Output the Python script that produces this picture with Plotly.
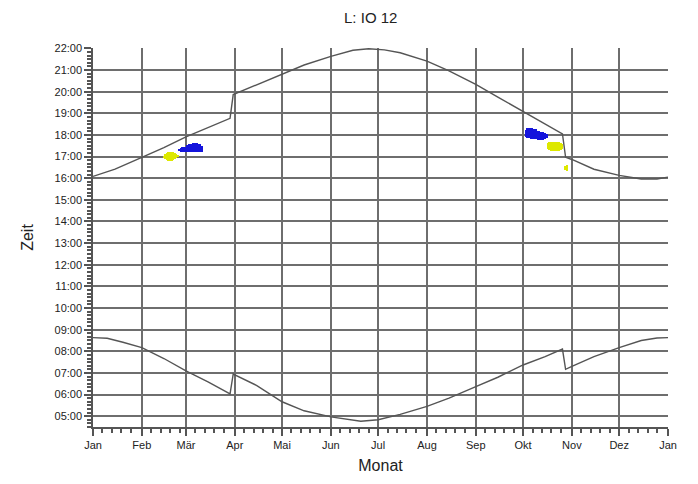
import plotly.graph_objects as go
import datetime as dt

# Sonnenaufgang / Sonnenuntergang
rise_days = ["2011-01-01", "2011-01-10", "2011-01-20", "2011-02-01", "2011-02-15", "2011-03-01",
             "2011-03-15", "2011-03-29", "2011-03-31", "2011-04-15", "2011-05-01", "2011-05-15",
             "2011-06-01", "2011-06-20", "2011-07-01", "2011-07-15", "2011-08-01", "2011-08-15",
             "2011-09-01", "2011-09-15", "2011-10-01", "2011-10-15", "2011-10-26", "2011-10-28",
             "2011-11-01", "2011-11-15", "2011-12-01", "2011-12-15", "2011-12-25", "2012-01-01"]
rise_times = ["08:38", "08:36", "08:25", "08:10", "07:40", "07:06",
              "06:35", "06:02", "06:57", "06:25", "05:40", "05:15",
              "04:58", "04:46", "04:50", "05:05", "05:27", "05:50",
              "06:22", "06:48", "07:22", "07:45", "08:06", "07:10",
              "07:18", "07:45", "08:10", "08:30", "08:37", "08:38"]

set_days = ["2011-01-01", "2011-01-15", "2011-02-01", "2011-02-15", "2011-03-01", "2011-03-15",
            "2011-03-29", "2011-03-31", "2011-04-15", "2011-05-01", "2011-05-15", "2011-06-01",
            "2011-06-15", "2011-06-25", "2011-07-05", "2011-07-15", "2011-08-01", "2011-08-15",
            "2011-09-01", "2011-09-15", "2011-10-01", "2011-10-15", "2011-10-26", "2011-10-28",
            "2011-11-01", "2011-11-15", "2011-12-01", "2011-12-15", "2011-12-25", "2012-01-01"]
set_times = ["16:05", "16:25", "16:58", "17:25", "17:55", "18:20",
             "18:46", "19:52", "20:20", "20:50", "21:14", "21:38",
             "21:55", "21:59", "21:56", "21:48", "21:25", "20:58",
             "20:20", "19:45", "19:05", "18:32", "18:03", "16:58",
             "16:52", "16:25", "16:08", "15:58", "15:58", "16:03"]

# Schattenwurf-Zeiten (Beginn / Ende je Tag)
yellow1_days = ["2011-02-15", "2011-02-16", "2011-02-17", "2011-02-18", "2011-02-19",
                "2011-02-20", "2011-02-21", "2011-02-22", "2011-02-23", "2011-02-24"]
yellow1_from = ["16:58", "16:53", "16:50", "16:48", "16:48", "16:49", "16:50", "16:53", "16:56", "17:00"]
yellow1_to = ["17:03", "17:08", "17:11", "17:13", "17:14", "17:14", "17:13", "17:11", "17:08", "17:04"]

blue1_days = ["2011-02-25", "2011-02-26", "2011-02-27", "2011-02-28", "2011-03-01", "2011-03-02",
              "2011-03-03", "2011-03-04", "2011-03-05", "2011-03-06", "2011-03-07", "2011-03-08",
              "2011-03-09", "2011-03-10", "2011-03-11"]
blue1_from = ["17:16", "17:14", "17:13", "17:12", "17:12", "17:12", "17:12", "17:12",
              "17:12", "17:12", "17:12", "17:12", "17:13", "17:13", "17:14"]
blue1_to = ["17:22", "17:25", "17:26", "17:27", "17:28", "17:32", "17:34", "17:35",
            "17:36", "17:38", "17:38", "17:37", "17:36", "17:34", "17:30"]

blue2_days = ["2011-10-03", "2011-10-04", "2011-10-05", "2011-10-06", "2011-10-07", "2011-10-08",
              "2011-10-09", "2011-10-10", "2011-10-11", "2011-10-12", "2011-10-13", "2011-10-14",
              "2011-10-15", "2011-10-16"]
blue2_from = ["17:55", "17:52", "17:51", "17:50", "17:50", "17:50", "17:50",
              "17:48", "17:47", "17:46", "17:46", "17:47", "17:48", "17:51"]
blue2_to = ["18:15", "18:18", "18:19", "18:19", "18:18", "18:17", "18:16",
            "18:12", "18:10", "18:09", "18:08", "18:08", "18:06", "18:03"]

yellow2_days = ["2011-10-17", "2011-10-18", "2011-10-19", "2011-10-20", "2011-10-21",
                "2011-10-22", "2011-10-23", "2011-10-24", "2011-10-25", "2011-10-26",
                "2011-10-28", "2011-10-29"]
yellow2_from = ["17:20", "17:17", "17:16", "17:16", "17:16", "17:16", "17:16", "17:16", "17:17", "17:20",
                "16:22", "16:21"]
yellow2_to = ["17:37", "17:40", "17:41", "17:41", "17:41", "17:41", "17:41", "17:40", "17:39", "17:36",
              "16:35", "16:36"]

month_starts = ["2011-01-01", "2011-02-01", "2011-03-01", "2011-04-01", "2011-05-01", "2011-06-01",
                "2011-07-01", "2011-08-01", "2011-09-01", "2011-10-01", "2011-11-01", "2011-12-01",
                "2012-01-01"]
month_names = ["Jan", "Feb", "Mär", "Apr", "Mai", "Jun", "Jul", "Aug", "Sep", "Okt", "Nov", "Dez", "Jan"]
hours = list(range(5, 23))


def h(t):
    hh, mm = t.split(":")
    return int(hh) + int(mm) / 60


LINE = "#555555"
GRID = "#6e6e6e"
DAY_MS = 86400000

fig = go.Figure()

fig.add_trace(go.Scatter(x=rise_days, y=[h(t) for t in rise_times], mode="lines",
                         line=dict(color=LINE, width=1.4), showlegend=False))
fig.add_trace(go.Scatter(x=set_days, y=[h(t) for t in set_times], mode="lines",
                         line=dict(color=LINE, width=1.4), showlegend=False))

for days, t0, t1, col in [(yellow1_days, yellow1_from, yellow1_to, "#dde800"),
                          (blue1_days, blue1_from, blue1_to, "#1414dc"),
                          (blue2_days, blue2_from, blue2_to, "#1414dc"),
                          (yellow2_days, yellow2_from, yellow2_to, "#dde800")]:
    lo = [h(t) for t in t0]
    hi = [h(t) for t in t1]
    fig.add_trace(go.Bar(x=days, base=lo, y=[b - a for a, b in zip(lo, hi)],
                         width=DAY_MS * 1.1, marker=dict(color=col, line=dict(width=0)),
                         showlegend=False))

# kleine Striche: alle 6 Tage ab Monatsanfang
minor_x = []
for m in month_starts[:-1]:
    d0 = dt.date.fromisoformat(m)
    for k in range(1, 5):
        minor_x.append((d0 + dt.timedelta(days=6 * k)).isoformat())

# Seite hat 8px Rand -> Figur etwas kleiner
fig.update_layout(
    width=690, height=476,
    margin=dict(l=85, r=30, t=40, b=51),
    paper_bgcolor="white", plot_bgcolor="white",
    barmode="overlay", bargap=0,
    font=dict(family="Liberation Sans, Arial, sans-serif", size=11, color="#222222"),
    title=dict(text="L: IO 12", x=0.483, xref="paper", xanchor="center",
               y=1 - 10 / 476, yanchor="middle", font=dict(size=15, color="#222222")),
    xaxis=dict(
        type="date", range=["2011-01-01", "2012-01-01"],
        tickmode="array", tickvals=month_starts, ticktext=month_names,
        showgrid=True, gridcolor=GRID, gridwidth=1.6,
        showline=True, linecolor=LINE, linewidth=1.5,
        ticks="outside", ticklen=7, tickcolor=LINE, tickwidth=1.5,
        minor=dict(tickmode="array", tickvals=minor_x, ticks="outside", ticklen=4,
                   tickcolor=LINE, showgrid=False),
        title=dict(text="Monat", font=dict(size=16), standoff=10),
        zeroline=False,
    ),
    yaxis=dict(
        range=[4.5, 22.02],
        tickmode="array", tickvals=hours, ticktext=[f"{x:02d}:00" for x in hours],
        showgrid=True, gridcolor=GRID, gridwidth=1.6,
        showline=True, linecolor=LINE, linewidth=1.5,
        ticks="outside", ticklen=7, tickcolor=LINE, tickwidth=1.5,
        minor=dict(dtick=1 / 6, ticks="outside", ticklen=4, tickcolor=LINE, showgrid=False),
        title=dict(text="Zeit", font=dict(size=16), standoff=17),
        zeroline=False,
    ),
)

# schwarzer Rand rechts
fig.add_annotation(text=" ", showarrow=False, xref="paper", yref="paper",
                   x=1.04, y=0.45, xanchor="center", yanchor="middle",
                   width=1, height=470, borderpad=0, borderwidth=1, bordercolor="black")

fig.write_html("out.html")
